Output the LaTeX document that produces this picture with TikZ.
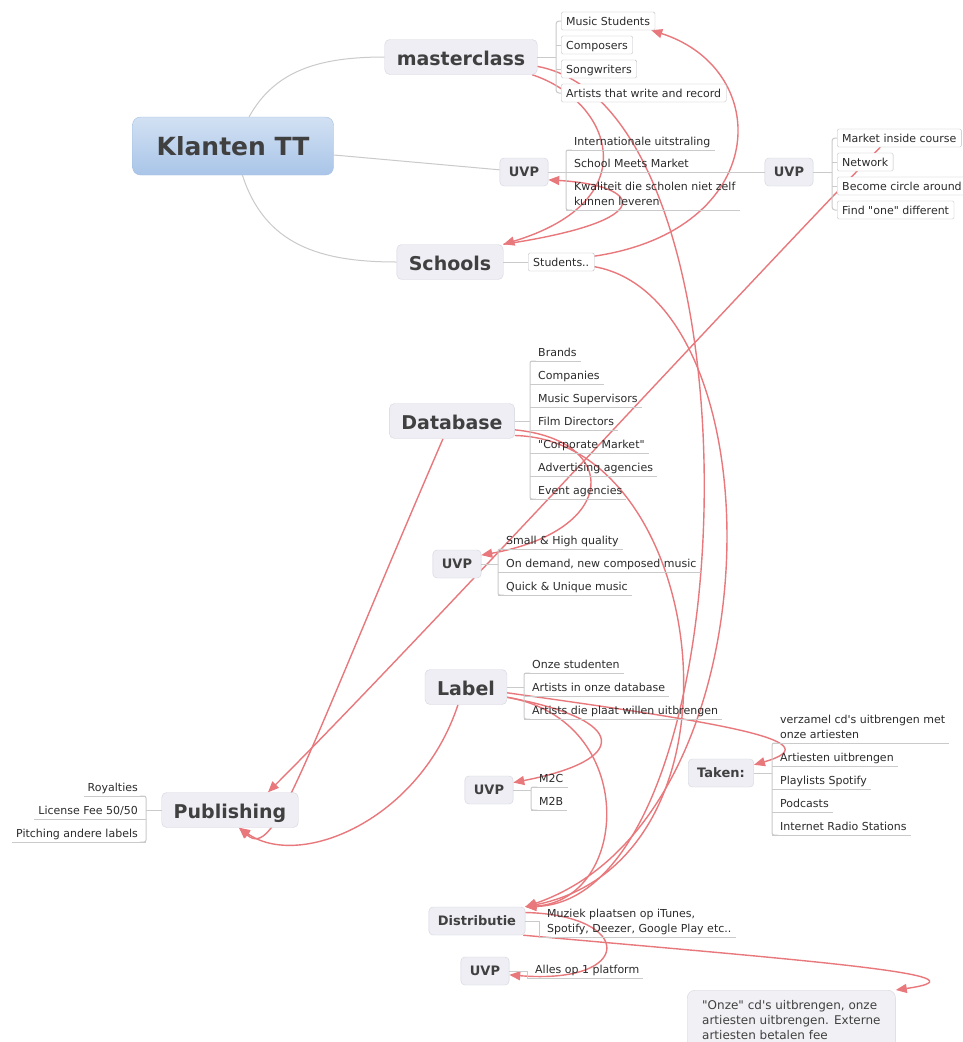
\documentclass[tikz,border=0pt]{standalone}
\usepackage{fontspec}
\usepackage{xcolor}
\usepackage{tikz}
\usetikzlibrary{arrows.meta, backgrounds}
\newfontfamily\mapfont{DejaVu Sans}
\definecolor{topicfill}{HTML}{EEEEF4}
\definecolor{topicline}{HTML}{D5D5DF}
\definecolor{rootlight}{HTML}{D2E1F3}
\definecolor{rootdark}{HTML}{A9C5E8}
\definecolor{rootline}{HTML}{A6C0E2}
\definecolor{topictext}{HTML}{404040}
\definecolor{leaftext}{HTML}{2B2B2B}
\definecolor{branchgray}{HTML}{CACACA}
\definecolor{relred}{HTML}{E8787C}
\definecolor{notefill}{HTML}{F1F1F5}
\newcommand{\rootfont}{\mapfont\fontsize{25}{30}\selectfont\bfseries}
\newcommand{\topicfont}{\mapfont\fontsize{19}{23}\selectfont\bfseries}
\newcommand{\subtopicfont}{\mapfont\fontsize{13}{16}\selectfont\bfseries}
\newcommand{\leaffont}{\mapfont\fontsize{11}{15}\selectfont}
\newcommand{\notefont}{\mapfont\fontsize{12}{15}\selectfont}

\begin{document}
\begin{tikzpicture}[
  x=1pt, y=-1pt,
  branch/.style={draw=branchgray, line width=1pt},
  rel/.style={draw=relred, line width=1.4pt, -{Triangle[length=11pt, width=9pt]}},
  root/.style={draw=rootline, top color=rootlight, bottom color=rootdark, rounded corners=8pt,
               font=\rootfont, text=topictext, minimum width=201pt, minimum height=58pt,
               text height=20pt, text depth=1.8pt},
  topic/.style={draw=topicline, fill=topicfill, rounded corners=5pt, font=\topicfont,
                text=topictext, inner xsep=12pt, minimum height=35pt,
                text height=18pt, text depth=2pt},
  subtopic/.style={topic, font=\subtopicfont, inner xsep=9pt, minimum height=28pt,
                   rounded corners=4pt, text height=11pt, text depth=1.5pt},
  leafbox/.style={draw=topicline!70!gray, fill=white, rounded corners=1.5pt, anchor=west,
                  font=\leaffont, text=leaftext, inner xsep=5pt, inner ysep=0pt,
                  minimum height=18pt, text height=10pt, text depth=2pt},
  leaf/.style={anchor=south west, align=left, font=\leaffont, text=leaftext,
               inner xsep=4pt, inner ysep=0pt, execute at end node=\strut,
               append after command={([xshift=-4pt]\tikzlastnode.south west)
                 edge[branch] (\tikzlastnode.south east)}},
  leftleaf/.style={anchor=south east, align=right, font=\leaffont, text=leaftext,
                   inner xsep=4pt, inner ysep=0pt, execute at end node=\strut,
                   append after command={(\tikzlastnode.south west)
                     edge[branch] ([xshift=4pt]\tikzlastnode.south east)}},
  note/.style={anchor=north west, align=left, draw=topicline, fill=notefill,
               rounded corners=8pt, font=\notefont, text=topictext,
               inner xsep=15pt, inner ysep=10pt}
]
\useasboundingbox (0,0) rectangle (963,1042);

\node[root] (root) at (233,146) {Klanten TT};
\node[topic] (masterclass) at (461,57) {masterclass};
\node[subtopic] (uvpSchool) at (524,172) {UVP};
\node[topic] (schools) at (450,262) {Schools};

\coordinate (masterFork) at (556,57);
\node[leafbox] (musicStudents) at (561,21) {Music Students};
\node[leafbox] (composers) at (561,45) {Composers};
\node[leafbox] (songwriters) at (561,69) {Songwriters};
\node[leafbox] (artistsRecord) at (561,93) {Artists that write and record};
\draw[branch] (masterclass.east) -- (masterFork);
\draw[branch, rounded corners=3pt] (musicStudents.west) -| (masterFork) |- (artistsRecord.west);
\draw[branch] (masterFork |- composers.west) -- (composers.west);
\draw[branch] (masterFork |- songwriters.west) -- (songwriters.west);

\coordinate (uvpSchoolFork) at (566,172);
\node[leaf] (intl) at (570,150) {Internationale uitstraling};
\node[leaf] (schoolMarket) at (570,172) {School Meets Market};
\node[leaf] (kwaliteit) at (570,210) {Kwaliteit die scholen niet zelf\\kunnen leveren};
\draw[branch] (uvpSchool.east) -- (uvpSchoolFork);
\draw[branch, rounded corners=2pt] ([xshift=2pt]intl.south west) -| (uvpSchoolFork) |- ([xshift=2pt]kwaliteit.south west);

\node[subtopic] (uvpMarket) at (789,172) {UVP};
\draw[branch] (schoolMarket.south east) -- (uvpMarket.west);
\coordinate (uvpMarketFork) at (832,172);
\node[leafbox] (marketInside) at (837,138) {Market inside course};
\node[leafbox] (network) at (837,162) {Network};
\node[leafbox] (circleAround) at (837,186) {Become circle around};
\node[leafbox] (findOne) at (837,210) {Find "one" different};
\draw[branch] (uvpMarket.east) -- (uvpMarketFork);
\draw[branch, rounded corners=3pt] (marketInside.west) -| (uvpMarketFork) |- (findOne.west);
\draw[branch] (uvpMarketFork |- network.west) -- (network.west);
\draw[branch] (uvpMarketFork |- circleAround.west) -- (circleAround.west);

\node[leafbox] (students) at (528,262) {Students..};
\draw[branch] (schools.east) -- (students.west);

\node[topic] (database) at (452,421) {Database};
\coordinate (databaseFork) at (530,421);
\node[leaf] (brands) at (534,361) {Brands};
\node[leaf] (companies) at (534,384) {Companies};
\node[leaf] (supervisors) at (534,407) {Music Supervisors};
\node[leaf] (filmDirectors) at (534,430) {Film Directors};
\node[leaf] (corporate) at (534,453) {"Corporate Market"};
\node[leaf] (advertising) at (534,476) {Advertising agencies};
\node[leaf] (eventAgencies) at (534,499) {Event agencies};
\draw[branch] (database.east) -- (databaseFork);
\draw[branch, rounded corners=2pt] ([xshift=2pt]brands.south west) -| (databaseFork) |- ([xshift=2pt]eventAgencies.south west);

\node[subtopic] (uvpDatabase) at (457,564) {UVP};
\coordinate (uvpDatabaseFork) at (498,564);
\node[leaf] (smallQuality) at (502,549) {Small \& High quality};
\node[leaf] (onDemand) at (502,572) {On demand, new composed music};
\node[leaf] (quickUnique) at (502,595) {Quick \& Unique music};
\draw[branch] (uvpDatabase.east) -- (uvpDatabaseFork);
\draw[branch, rounded corners=2pt] ([xshift=2pt]smallQuality.south west) -| (uvpDatabaseFork) |- ([xshift=2pt]quickUnique.south west);

\node[topic] (label) at (466,687) {Label};
\coordinate (labelFork) at (524,687);
\node[leaf] (onzeStudenten) at (528,673) {Onze studenten};
\node[leaf] (artistsDatabase) at (528,696) {Artists in onze database};
\node[leaf] (artistsPlaat) at (528,719) {Artists die plaat willen uitbrengen};
\draw[branch] (label.east) -- (labelFork);
\draw[branch, rounded corners=2pt] ([xshift=2pt]onzeStudenten.south west) -| (labelFork) |- ([xshift=2pt]artistsPlaat.south west);

\node[subtopic] (uvpLabel) at (489,790) {UVP};
\coordinate (uvpLabelFork) at (531,790);
\node[leaf] (mtoc) at (535,787) {M2C};
\node[leaf] (mtob) at (535,810) {M2B};
\draw[branch] (uvpLabel.east) -- (uvpLabelFork);
\draw[branch, rounded corners=2pt] ([xshift=2pt]mtoc.south west) -| (uvpLabelFork) |- ([xshift=2pt]mtob.south west);

\node[subtopic] (taken) at (721,773) {Taken:};
\coordinate (takenFork) at (772,773);
\node[leaf] (verzamel) at (776,743) {verzamel cd's uitbrengen met\\onze artiesten};
\node[leaf] (artiestenUit) at (776,766) {Artiesten uitbrengen};
\node[leaf] (playlists) at (776,789) {Playlists Spotify};
\node[leaf] (podcasts) at (776,812) {Podcasts};
\node[leaf] (radio) at (776,835) {Internet Radio Stations};
\draw[branch] (taken.east) -- (takenFork);
\draw[branch, rounded corners=2pt] ([xshift=2pt]verzamel.south west) -| (takenFork) |- ([xshift=2pt]radio.south west);

\node[topic] (publishing) at (230,810) {Publishing};
\coordinate (publishingFork) at (146,810);
\node[leftleaf] (royalties) at (142,796) {Royalties};
\node[leftleaf] (licenseFee) at (142,819) {License Fee 50/50};
\node[leftleaf] (pitching) at (142,842) {Pitching andere labels};
\draw[branch] (publishing.west) -- (publishingFork);
\draw[branch, rounded corners=2pt] ([xshift=-2pt]royalties.south east) -| (publishingFork) |- ([xshift=-2pt]pitching.south east);

\node[subtopic] (distributie) at (477,921) {Distributie};
\node[leaf] (muziek) at (543,937) {Muziek plaatsen op iTunes,\\Spotify, Deezer, Google Play etc..};
\draw[branch] (distributie.east) -| ([xshift=-4pt]muziek.south west);

\node[subtopic] (uvpDistributie) at (485,971) {UVP};
\node[leaf] (alles) at (531,978) {Alles op 1 platform};
\draw[branch] (uvpDistributie.east) -| ([xshift=-4pt]alles.south west);

\node[note] (onzeNote) at (687,990) {"Onze" cd's uitbrengen, onze\\artiesten uitbrengen. Externe\\artiesten betalen fee};

\begin{scope}[on background layer]
\fill[white] (0,0) rectangle (963,1042);
\draw[branch] (root) .. controls (275,70) and (320,57) .. (masterclass.west);
\draw[branch] (root) -- (uvpSchool);
\draw[branch] (root) .. controls (265,245) and (320,262) .. (schools.west);
\draw[rel] (masterclass.-14) .. controls (610,100) and (650,200) .. (schools.north east);
\draw[rel] (schools.north east) .. controls (665,220) and (640,185) .. (uvpSchool.-18);
\draw[rel] (masterclass.-7) .. controls (770,110) and (750,900) .. (distributie.north east);
\draw[rel] (students.10) .. controls (770,230) and (775,70) .. ([xshift=-4pt]musicStudents.south east);
\draw[rel] (students.-8) .. controls (780,300) and (780,820) .. (distributie.north east);
\draw[rel] ([xshift=-19pt]marketInside.south) .. controls (760,270) and (420,640) .. (publishing.25);
\draw[rel] (database.-8) .. controls (620,440) and (620,530) .. (uvpDatabase.20);
\draw[rel] (database.-13) .. controls (710,440) and (760,860) .. (distributie.north east);
\draw[rel] ([xshift=-9pt]database.south) .. controls (300,770) and (275,860) .. ([xshift=9pt]publishing.south);
\draw[rel] ([xshift=-8pt]label.south) .. controls (420,820) and (300,870) .. ([xshift=9pt]publishing.south);
\draw[rel] (label.-14) .. controls (630,720) and (630,760) .. (uvpLabel.17);
\draw[rel] (label.-14) .. controls (640,720) and (630,900) .. (distributie.north east);
\draw[rel] (label.-8) .. controls (700,720) and (840,740) .. (taken.14);
\draw[rel] (distributie.10) .. controls (635,915) and (635,985) .. (uvpDistributie.-9);
\draw[rel] ([xshift=-2pt]distributie.south east) .. controls (800,960) and (1000,975) .. (onzeNote.north east);
\end{scope}
\end{tikzpicture}
\end{document}
